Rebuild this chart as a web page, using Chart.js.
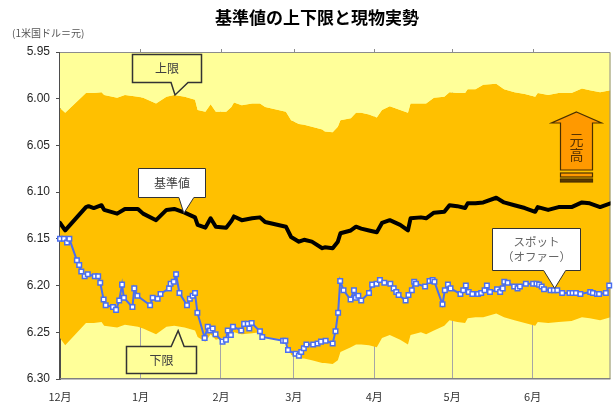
<!DOCTYPE html>
<html>
<head>
<meta charset="utf-8">
<script src="https://cdn.jsdelivr.net/npm/chart.js@4"></script>
<style>
  body { margin: 0; background: #fff; }
  .chart-wrapper { width: 616px; height: 405px; position: relative; }
</style>
</head>
<body>
<div class="chart-wrapper"><canvas id="rateChart"></canvas></div>
<script>
// x is days since 1 Dec; y is CNY per 1 USD (axis reversed, 元高 is up)
const monthDays = [0, 31, 62, 90, 121, 151, 182];
const monthLabels = ['12月', '1月', '2月', '3月', '4月', '5月', '6月'];
const yTicks = [5.95, 6.00, 6.05, 6.10, 6.15, 6.20, 6.25, 6.30];

const bandDays = [0, 2, 10, 11, 13, 16, 17, 22, 25, 30, 32, 37, 41, 44, 48, 52, 53, 56, 58, 60,
  64, 66, 67, 70, 74, 77, 79, 87, 89, 92, 94, 97, 101, 102, 105, 107, 108, 112, 114, 116,
  119, 122, 124, 127, 131, 134, 135, 139, 141, 144, 148, 150, 153, 156, 157, 160, 163, 168, 171, 175,
  179, 183, 184, 188, 192, 197, 201, 204, 208, 212];
const baseRates = [6.133, 6.141, 6.116, 6.115, 6.117, 6.114, 6.119, 6.123, 6.118, 6.118, 6.123, 6.130, 6.119, 6.118, 6.122, 6.127, 6.135, 6.138, 6.128, 6.137,
  6.138, 6.131, 6.126, 6.130, 6.128, 6.127, 6.132, 6.137, 6.148, 6.153, 6.151, 6.153, 6.160, 6.159, 6.160, 6.153, 6.144, 6.141, 6.137, 6.139,
  6.141, 6.143, 6.133, 6.130, 6.135, 6.141, 6.128, 6.127, 6.128, 6.122, 6.121, 6.114, 6.115, 6.117, 6.112, 6.112, 6.111, 6.106, 6.111, 6.114,
  6.117, 6.121, 6.116, 6.119, 6.116, 6.116, 6.111, 6.112, 6.116, 6.112];
const upperRates = [6.010, 6.015, 5.994, 5.994, 5.994, 5.993, 5.996, 5.999, 5.996, 5.998, 5.999, 6.005, 5.998, 5.996, 5.998, 6.001, 6.012, 6.014, 6.006, 6.014,
  6.014, 6.009, 6.004, 6.007, 6.005, 6.005, 6.009, 6.014, 6.023, 6.027, 6.028, 6.030, 6.033, 6.035, 6.036, 6.030, 6.023, 6.021, 6.015, 6.015,
  6.017, 6.020, 6.012, 6.008, 6.012, 6.015, 6.005, 6.005, 6.005, 5.999, 5.998, 5.993, 5.994, 5.994, 5.990, 5.990, 5.985, 5.984, 5.990, 5.993,
  5.995, 5.998, 5.994, 5.996, 5.994, 5.994, 5.989, 5.991, 5.993, 5.991];
const lowerRates = [6.256, 6.264, 6.240, 6.240, 6.240, 6.239, 6.243, 6.245, 6.242, 6.244, 6.246, 6.252, 6.244, 6.243, 6.245, 6.248, 6.255, 6.260, 6.252, 6.258,
  6.255, 6.252, 6.250, 6.252, 6.251, 6.250, 6.255, 6.260, 6.274, 6.278, 6.278, 6.280, 6.283, 6.283, 6.284, 6.280, 6.271, 6.266, 6.263, 6.263,
  6.264, 6.266, 6.256, 6.253, 6.258, 6.263, 6.253, 6.250, 6.252, 6.248, 6.243, 6.237, 6.239, 6.240, 6.235, 6.234, 6.234, 6.230, 6.234, 6.237,
  6.240, 6.243, 6.239, 6.240, 6.239, 6.238, 6.234, 6.235, 6.237, 6.234];

const spotDays = [0, 1.5, 2.7, 3.6, 6.5, 7.4, 8.2, 9.5, 10.7, 13.4, 14.7, 15.5, 16.8, 17.6, 20.4, 21.6, 22.8, 23.9, 24.6, 27.9,
  28.6, 29.8, 34.7, 35.7, 37.6, 38.7, 42.0, 42.6, 43.8, 44.7, 46.0, 48.9, 50.0, 51.1, 52.0, 52.9, 55.7, 56.9, 57.8, 58.8,
  59.9, 62.6, 63.9, 64.6, 65.8, 66.6, 69.8, 70.9, 72.3, 72.9, 73.8, 77.0, 77.9, 85.9, 86.8, 87.8, 90.7, 92.0, 92.9, 93.9,
  94.9, 97.5, 99.2, 100.5, 102.3, 105.0, 106.1, 107.1, 107.9, 109.2, 111.9, 113.2, 113.9, 114.9, 116.0, 119.0, 120.2, 121.9, 123.2, 124.9,
  127.2, 128.5, 129.5, 130.4, 133.1, 134.2, 135.5, 136.4, 137.1, 140.6, 142.3, 143.5, 144.2, 147.3, 148.2, 149.4, 150.4, 154.2, 155.3, 156.3,
  157.4, 158.8, 161.0, 162.2, 163.5, 164.4, 165.6, 168.3, 169.5, 170.5, 171.1, 172.4, 174.9, 176.2, 177.1, 179.4, 182.2, 183.5, 184.5, 185.5,
  186.4, 188.9, 190.2, 191.5, 193.4, 196.2, 197.4, 198.7, 200.4, 204.2, 205.2, 206.8, 207.6, 210.2, 211.5];
const spotRates = [6.150, 6.150, 6.154, 6.150, 6.173, 6.178, 6.185, 6.190, 6.188, 6.190, 6.190, 6.197, 6.215, 6.221, 6.223, 6.226, 6.216, 6.199, 6.213, 6.223,
  6.203, 6.211, 6.221, 6.213, 6.214, 6.209, 6.203, 6.198, 6.196, 6.188, 6.208, 6.221, 6.214, 6.211, 6.208, 6.229, 6.256, 6.244, 6.248, 6.246,
  6.252, 6.260, 6.258, 6.248, 6.253, 6.244, 6.248, 6.241, 6.241, 6.246, 6.240, 6.249, 6.255, 6.259, 6.259, 6.269, 6.273, 6.275, 6.271, 6.267,
  6.263, 6.263, 6.262, 6.260, 6.259, 6.262, 6.249, 6.229, 6.195, 6.205, 6.215, 6.205, 6.213, 6.211, 6.216, 6.208, 6.199, 6.198, 6.194, 6.197,
  6.198, 6.203, 6.207, 6.210, 6.216, 6.210, 6.205, 6.196, 6.198, 6.201, 6.195, 6.194, 6.196, 6.220, 6.205, 6.199, 6.203, 6.209, 6.205, 6.200,
  6.207, 6.209, 6.209, 6.208, 6.205, 6.200, 6.207, 6.204, 6.207, 6.203, 6.196, 6.197, 6.201, 6.203, 6.201, 6.198, 6.198, 6.198, 6.199, 6.201,
  6.204, 6.205, 6.205, 6.205, 6.208, 6.208, 6.208, 6.208, 6.209, 6.207, 6.208, 6.209, 6.209, 6.208, 6.200];

const latinFont = '"Liberation Sans", "Noto Sans CJK JP", sans-serif';
const jpFont = '"Noto Sans CJK JP", "Liberation Sans", sans-serif';
const plotYellow = '#FFFF99';
const bandOrange = '#FFC000';
const spotBlue = '#4A6EF0';

// callouts are anchored on a data point; box and pointer are pixel offsets from that tip
const callouts = [
  { text: ['上限'], day: 44.3, value: 5.996, dx: -43, dy: -41, w: 69, h: 28, p1: -4, p2: 13, fill: plotYellow, lw: 1.5, color: '#404040', size: 12 },
  { text: ['基準値'], day: 47.7, value: 6.1226, dx: -46, dy: -45, w: 67, h: 29, p1: -5, p2: 10, fill: '#fff', lw: 1, color: '#404040', size: 12 },
  { text: ['下限'], day: 45.5, value: 6.2483, dx: -52, dy: 15, w: 70, h: 27, p1: -7, p2: 6, fill: plotYellow, lw: 1.5, color: '#404040', size: 12 },
  { text: ['スポット', '（オファー）'], day: 190.5, value: 6.203, dx: -63, dy: -60, w: 88, h: 42, p1: -11, p2: 11, fill: '#fff', lw: 1, color: '#666', size: 11.5 }
];

function toPoints(xs, ys) {
  return xs.map((x, i) => ({ x: x, y: ys[i] }));
}

function drawCallout(ctx, c, tip) {
  const bx = Math.round(tip.x + c.dx) + 0.5;
  const by = Math.round(tip.y + c.dy) + 0.5;
  ctx.beginPath();
  if (c.dy < 0) {
    const bottom = by + c.h;
    ctx.moveTo(bx, by);
    ctx.lineTo(bx + c.w, by);
    ctx.lineTo(bx + c.w, bottom);
    ctx.lineTo(tip.x + c.p2, bottom);
    ctx.lineTo(tip.x, tip.y);
    ctx.lineTo(tip.x + c.p1, bottom);
    ctx.lineTo(bx, bottom);
  } else {
    ctx.moveTo(bx, by);
    ctx.lineTo(tip.x + c.p1, by);
    ctx.lineTo(tip.x, tip.y);
    ctx.lineTo(tip.x + c.p2, by);
    ctx.lineTo(bx + c.w, by);
    ctx.lineTo(bx + c.w, by + c.h);
    ctx.lineTo(bx, by + c.h);
  }
  ctx.closePath();
  ctx.fillStyle = c.fill;
  ctx.fill();
  ctx.lineWidth = c.lw;
  ctx.strokeStyle = '#333';
  ctx.lineJoin = 'miter';
  ctx.stroke();

  ctx.fillStyle = c.color;
  ctx.font = c.size + 'px ' + jpFont;
  ctx.textAlign = 'center';
  ctx.textBaseline = 'middle';
  const lh = c.size * 1.3;
  const cy = by + c.h / 2 - (c.text.length - 1) * lh / 2;
  c.text.forEach((t, i) => ctx.fillText(t, bx + c.w / 2, cy + i * lh));
}

function drawArrow(ctx, area) {
  const cx = area.right - 34;
  const top = area.top + 60;
  ctx.beginPath();
  ctx.moveTo(cx, top);
  ctx.lineTo(cx + 25, top + 11);
  ctx.lineTo(cx + 16, top + 11);
  ctx.lineTo(cx + 16, top + 58);
  ctx.lineTo(cx - 16, top + 58);
  ctx.lineTo(cx - 16, top + 11);
  ctx.lineTo(cx - 25, top + 11);
  ctx.closePath();
  ctx.fillStyle = '#FF9900';
  ctx.fill();
  ctx.strokeStyle = '#4a3000';
  ctx.lineWidth = 1.2;
  ctx.stroke();

  ctx.fillStyle = '#FF9900';
  ctx.fillRect(cx - 16, top + 61, 32, 4);
  ctx.strokeRect(cx - 16, top + 61, 32, 4);
  ctx.fillStyle = '#5a3a00';
  ctx.fillRect(cx - 16, top + 67, 32, 3);
  ctx.strokeRect(cx - 16, top + 67, 32, 3);

  ctx.fillStyle = '#5a3300';
  ctx.font = '14px ' + jpFont;
  ctx.textAlign = 'center';
  ctx.textBaseline = 'middle';
  ctx.fillText('元', cx, top + 28);
  ctx.fillText('高', cx, top + 43);
}

const backgroundPlugin = {
  id: 'plotBackground',
  beforeDraw(chart) {
    const { ctx, chartArea: a } = chart;
    ctx.save();
    ctx.fillStyle = plotYellow;
    ctx.fillRect(a.left, a.top, a.right - a.left, a.bottom - a.top);
    ctx.restore();
  }
};

// frame goes over the band fills but under the two lines
const framePlugin = {
  id: 'frame',
  afterDatasetDraw(chart, args) {
    if (args.index !== 2) return;
    const { ctx, chartArea: a } = chart;
    const x = chart.scales.x;
    ctx.save();
    ctx.lineWidth = 1;
    ctx.strokeStyle = '#8c8c8c';
    ctx.beginPath();
    ctx.moveTo(a.left, a.top + 0.5);
    ctx.lineTo(a.right - 0.5, a.top + 0.5);
    ctx.lineTo(a.right - 0.5, a.bottom - 0.5);
    monthDays.slice(1).forEach(d => {
      const px = Math.round(x.getPixelForValue(d)) + 0.5;
      ctx.moveTo(px, a.top - 3);
      ctx.lineTo(px, a.top + 1);
    });
    ctx.stroke();
    ctx.strokeStyle = '#808080';
    ctx.lineWidth = 1.5;
    ctx.beginPath();
    ctx.moveTo(a.left, a.bottom - 0.25);
    ctx.lineTo(a.right, a.bottom - 0.25);
    ctx.stroke();
    ctx.strokeStyle = '#4d4d4d';
    ctx.lineWidth = 1;
    ctx.beginPath();
    ctx.moveTo(a.left - 0.5, a.top);
    ctx.lineTo(a.left - 0.5, a.bottom);
    ctx.stroke();
    ctx.restore();
  }
};

const decorPlugin = {
  id: 'decor',
  afterDraw(chart) {
    const { ctx, chartArea: a } = chart;
    const x = chart.scales.x;
    const y = chart.scales.y;
    ctx.save();
    ctx.fillStyle = '#000';
    ctx.font = 'bold 17px ' + jpFont;
    ctx.textAlign = 'center';
    ctx.textBaseline = 'middle';
    ctx.fillText('基準値の上下限と現物実勢', 317, 18);

    ctx.fillStyle = '#555';
    ctx.font = '10px ' + jpFont;
    ctx.textAlign = 'left';
    ctx.fillText('(1米国ドル＝元)', 12, 33);

    drawArrow(ctx, a);
    callouts.forEach(c => {
      const tip = { x: x.getPixelForValue(c.day), y: y.getPixelForValue(c.value) };
      drawCallout(ctx, c, tip);
    });
    ctx.restore();
  }
};

function createRateChart() {
  const ctx = document.getElementById('rateChart');
  if (!ctx) return;
  const chart = new Chart(ctx, {
    type: 'line',
    data: {
      datasets: [
        {
          label: 'スポット（オファー）',
          data: toPoints(spotDays, spotRates),
          borderColor: spotBlue,
          borderWidth: 2,
          pointStyle: 'rect',
          pointRadius: 3.2,
          pointBackgroundColor: '#fff',
          pointBorderColor: spotBlue,
          pointBorderWidth: 1.5,
          clip: false,
          fill: false
        },
        {
          label: '基準値',
          data: toPoints(bandDays, baseRates),
          borderColor: '#000',
          borderWidth: 4,
          borderJoinStyle: 'round',
          borderCapStyle: 'round',
          pointRadius: 0,
          fill: false
        },
        {
          label: '上限',
          data: toPoints(bandDays, upperRates),
          borderWidth: 0,
          pointRadius: 0,
          backgroundColor: plotYellow,
          fill: { value: 5.95 }
        },
        {
          label: '下限',
          data: toPoints(bandDays, lowerRates),
          borderWidth: 0,
          pointRadius: 0,
          backgroundColor: bandOrange,
          fill: '-1'
        }
      ]
    },
    options: {
      responsive: true,
      maintainAspectRatio: false,
      animation: false,
      events: [],
      layout: { padding: { top: 52, right: 1, bottom: 0, left: 0 } },
      scales: {
        x: {
          type: 'linear',
          min: 0,
          max: 212,
          afterBuildTicks: s => { s.ticks = monthDays.map(v => ({ value: v })); },
          afterFit: s => { s.height = 26; },
          grid: { color: '#a6a6a6', drawTicks: false },
          border: { display: false },
          ticks: {
            color: '#333',
            font: { family: jpFont, size: 11 },
            padding: 11,
            maxRotation: 0,
            autoSkip: false,
            callback: (v, i) => monthLabels[i]
          }
        },
        y: {
          type: 'linear',
          reverse: true,
          min: 5.95,
          max: 6.30,
          afterBuildTicks: s => { s.ticks = yTicks.map(v => ({ value: v })); },
          afterFit: s => { s.width = 60; },
          grid: { drawOnChartArea: false, drawTicks: true, tickLength: 4, color: '#4d4d4d' },
          border: { color: '#4d4d4d' },
          ticks: {
            color: '#262626',
            font: { family: latinFont, size: 12 },
            padding: 6,
            callback: v => v.toFixed(2)
          }
        }
      },
      plugins: {
        legend: { display: false },
        tooltip: { enabled: false },
        title: { display: false }
      }
    },
    plugins: [backgroundPlugin, framePlugin, decorPlugin]
  });
  ctx._myChart = chart;
}

createRateChart();
</script>
</body>
</html>
